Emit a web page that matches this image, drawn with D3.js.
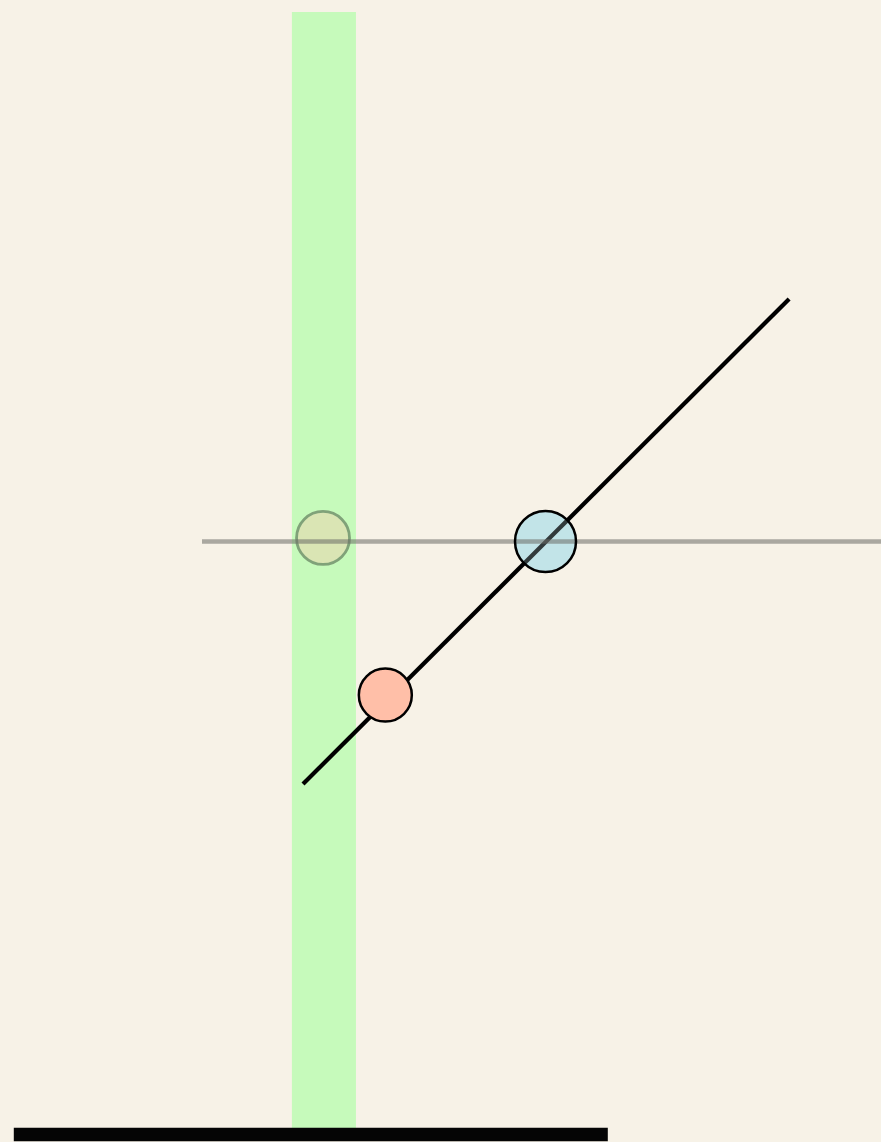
<!DOCTYPE html>
<html>
<head>
<meta charset="utf-8">
<script src="https://cdn.jsdelivr.net/npm/d3@7"></script>
<style>
  html, body { margin: 0; padding: 0; background: #f7f2e7; }
  svg { display: block; }
</style>
</head>
<body>
<div id="chart"></div>
<script>
// --- data (diagram units: band centre is x = 0, reference line is y = 0) ---
const bandX = [-0.14, 0.148];
const bandY = [-2.647, 2.38];
const refLineX = [-0.544, 2.508];
const refLineY = 0;
const trendX = [-0.09, 2.095];
const trendY = [-1.09, 1.09];
const pointNames = ["ghost", "current", "moved"];
const pointX = [0, 1.0, 0.28];
const pointY = [0.016, 0, -0.69];
const floorX = [-1.39, 1.28];
const floorY = -2.665;

const width = 881, height = 1142;

const svg = d3.select("#chart").append("svg")
    .attr("width", width)
    .attr("height", height);

svg.append("rect").attr("width", width).attr("height", height).attr("fill", "#f7f2e7");

// scales - same px per unit on both axes so the trend line sits at 45deg
const x = d3.scaleLinear().domain([-1.452, 2.508]).range([0, width]);
const y = d3.scaleLinear().domain([-2.699, 2.434]).range([height, 0]);

const points = pointNames.map((name, i) => ({ name, x: pointX[i], y: pointY[i] }));
const byName = n => points.find(p => p.name === n);

// green band
svg.append("rect")
    .attr("x", x(bandX[0]))
    .attr("y", y(bandY[1]))
    .attr("width", x(bandX[1]) - x(bandX[0]))
    .attr("height", y(bandY[0]) - y(bandY[1]))
    .attr("fill", "#c6fabb");

// faded copy of the moved point
const ghost = byName("ghost");
svg.append("circle")
    .attr("cx", x(ghost.x)).attr("cy", y(ghost.y)).attr("r", 26.5)
    .attr("fill", "#ffbfa8")
    .attr("stroke", "#000")
    .attr("stroke-width", 2.8)
    .attr("opacity", 0.35);

// current point fill (under the lines)
const cur = byName("current");
svg.append("circle")
    .attr("cx", x(cur.x)).attr("cy", y(cur.y)).attr("r", 30.5)
    .attr("fill", "#c3e4e9");

// trend line
const line = d3.line().x(d => x(d[0])).y(d => y(d[1]));
svg.append("path")
    .datum(d3.zip(trendX, trendY))
    .attr("d", line)
    .attr("fill", "none")
    .attr("stroke", "#000")
    .attr("stroke-width", 4.2);

// tint over the line inside the current point
svg.append("circle")
    .attr("cx", x(cur.x)).attr("cy", y(cur.y)).attr("r", 30.5)
    .attr("fill", "#c3e4e9")
    .attr("fill-opacity", 0.26);

// horizontal reference line
svg.append("line")
    .attr("x1", x(refLineX[0])).attr("x2", x(refLineX[1]))
    .attr("y1", y(refLineY)).attr("y2", y(refLineY))
    .attr("stroke", "rgb(108,108,102)")
    .attr("stroke-opacity", 0.55)
    .attr("stroke-width", 4.5);

// ring of the current point
svg.append("circle")
    .attr("cx", x(cur.x)).attr("cy", y(cur.y)).attr("r", 30.5)
    .attr("fill", "none")
    .attr("stroke", "#000")
    .attr("stroke-width", 2.5);

// moved point
const moved = byName("moved");
svg.append("circle")
    .attr("cx", x(moved.x)).attr("cy", y(moved.y)).attr("r", 26.5)
    .attr("fill", "#ffbfa8")
    .attr("stroke", "#000")
    .attr("stroke-width", 2.5);

// floor bar
svg.append("line")
    .attr("x1", x(floorX[0])).attr("x2", x(floorX[1]))
    .attr("y1", y(floorY)).attr("y2", y(floorY))
    .attr("stroke", "#050505")
    .attr("stroke-width", 13.5);
</script>
</body>
</html>
